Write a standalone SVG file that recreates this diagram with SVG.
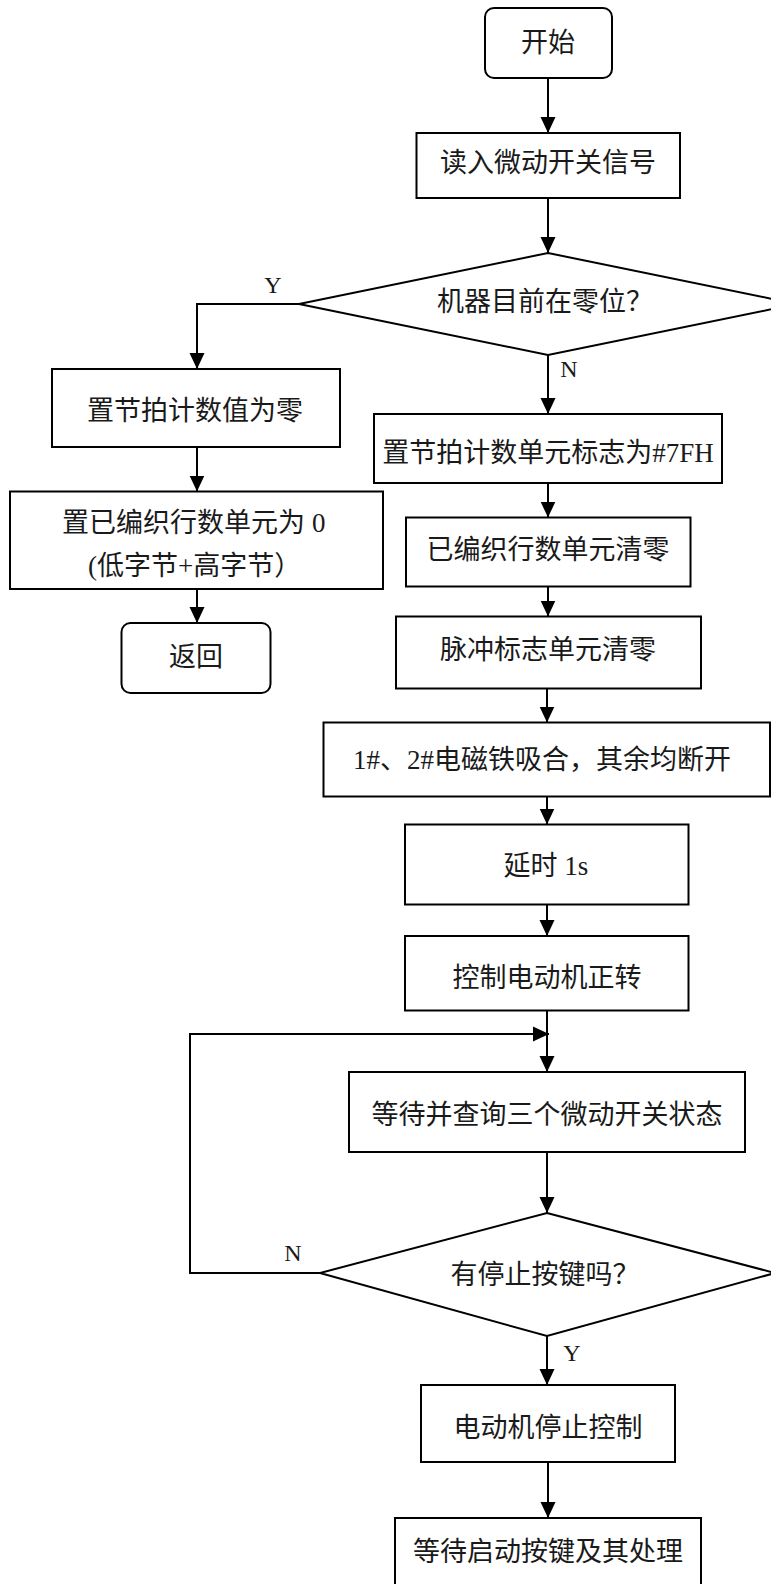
<svg xmlns="http://www.w3.org/2000/svg" width="771" height="1584" viewBox="0 0 771 1584">
<style>
.box{fill:#fff;stroke:#000;stroke-width:2}
.t{font-family:"Liberation Serif","Noto Sans CJK SC",serif;font-size:27px;fill:#1a1a1a;dominant-baseline:central}
.m{text-anchor:middle}
.lbl{font-family:"Liberation Serif","Noto Sans CJK SC",serif;font-size:24px;fill:#1a1a1a;dominant-baseline:central;text-anchor:middle}
.c{fill:none;stroke:#000;stroke-width:2}
</style>
<defs>
<marker id="ah" markerUnits="userSpaceOnUse" markerWidth="16" markerHeight="16" viewBox="0 0 16 16" refX="16" refY="8" orient="auto">
<path d="M0,0.5 L16,8 L0,15.5 z" fill="#000"/>
</marker>
</defs>
<rect width="771" height="1584" fill="#fff"/>
<g id="connectors">
<path class="c" d="M548,78 V133" marker-end="url(#ah)"/>
<path class="c" d="M548,198 V253" marker-end="url(#ah)"/>
<path class="c" d="M299,304 H197 V369" marker-end="url(#ah)"/>
<path class="c" d="M197,447 V491.5" marker-end="url(#ah)"/>
<path class="c" d="M197,589 V623" marker-end="url(#ah)"/>
<path class="c" d="M548,355 V414" marker-end="url(#ah)"/>
<path class="c" d="M548,483 V517.5" marker-end="url(#ah)"/>
<path class="c" d="M548,586.5 V616.5" marker-end="url(#ah)"/>
<path class="c" d="M547,688.5 V722.5" marker-end="url(#ah)"/>
<path class="c" d="M547,796.5 V824.5" marker-end="url(#ah)"/>
<path class="c" d="M547,904.5 V936" marker-end="url(#ah)"/>
<path class="c" d="M547,1010.5 V1072" marker-end="url(#ah)"/>
<path class="c" d="M320,1273 H190 V1034 H549" marker-end="url(#ah)"/>
<path class="c" d="M547,1152 V1213" marker-end="url(#ah)"/>
<path class="c" d="M547,1336 V1385" marker-end="url(#ah)"/>
<path class="c" d="M548,1462 V1518" marker-end="url(#ah)"/>
<text class="lbl" x="273" y="285">Y</text>
<text class="lbl" x="569" y="369">N</text>
<text class="lbl" x="293" y="1253">N</text>
<text class="lbl" x="572" y="1353">Y</text>
</g>
<g id="start"><rect class="box" x="485" y="8" width="127" height="70" rx="9"/><text class="t m" x="548" y="43">开始</text></g>
<g id="read"><rect class="box" x="416.5" y="133" width="263.5" height="65"/><text class="t m" x="548" y="163">读入微动开关信号</text></g>
<g id="zeroCheck"><polygon class="box" points="548,253 797,304 548,355 299,304"/><text class="t m" x="545" y="302">机器目前在零位？</text></g>
<g id="setBeatZero"><rect class="box" x="52" y="369" width="288" height="78"/><text class="t m" x="195" y="411">置节拍计数值为零</text></g>
<g id="setRowsZero"><rect class="box" x="10" y="491.5" width="373" height="97.5"/><text class="t" x="62" y="523">置已编织行数单元为<tspan dx="7">0</tspan></text><text class="t" x="88" y="566">(低字节+高字节）</text></g>
<g id="return"><rect class="box" x="121.5" y="623" width="149" height="70" rx="9"/><text class="t m" x="196" y="657">返回</text></g>
<g id="set7FH"><rect class="box" x="374" y="414" width="348" height="69"/><text class="t m" x="548" y="453">置节拍计数单元标志为#7FH</text></g>
<g id="clearRows"><rect class="box" x="406" y="517.5" width="284.5" height="69"/><text class="t m" x="548" y="550">已编织行数单元清零</text></g>
<g id="clearPulse"><rect class="box" x="396" y="616.5" width="305" height="72"/><text class="t m" x="548" y="650">脉冲标志单元清零</text></g>
<g id="magnets"><rect class="box" x="323.5" y="722.5" width="446.5" height="74"/><text class="t" x="353" y="760">1#、2#电磁铁吸合，其余均断开</text></g>
<g id="delay"><rect class="box" x="405" y="824.5" width="283.5" height="80"/><text class="t m" x="546" y="866">延时 1s</text></g>
<g id="motorFwd"><rect class="box" x="405" y="936" width="283.5" height="74.5"/><text class="t m" x="547" y="978">控制电动机正转</text></g>
<g id="waitSwitch"><rect class="box" x="349" y="1072" width="396" height="80"/><text class="t m" x="547" y="1115">等待并查询三个微动开关状态</text></g>
<g id="stopCheck"><polygon class="box" points="547,1213 775,1273 547,1336 320,1273"/><text class="t m" x="545" y="1275">有停止按键吗？</text></g>
<g id="motorStop"><rect class="box" x="421" y="1385" width="254" height="77"/><text class="t m" x="548" y="1428">电动机停止控制</text></g>
<g id="waitStart"><rect class="box" x="395" y="1518" width="306" height="80"/><text class="t m" x="548" y="1552">等待启动按键及其处理</text></g>
</svg>
